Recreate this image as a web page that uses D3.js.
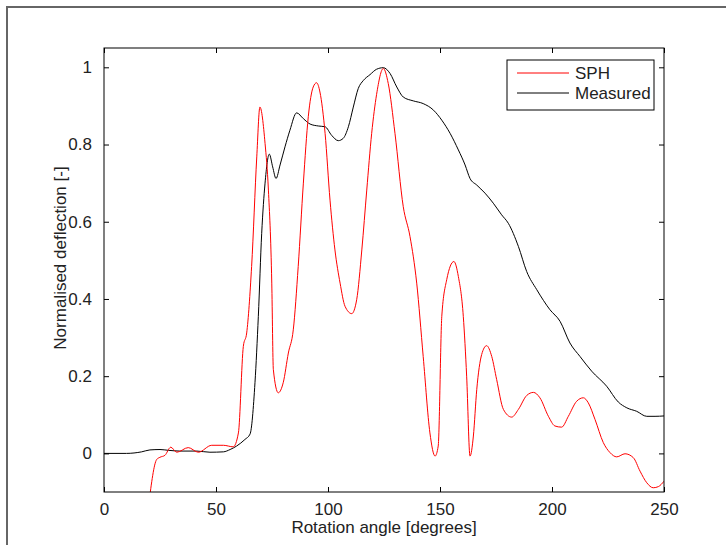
<!DOCTYPE html>
<html>
<head>
<meta charset="utf-8">
<script src="https://cdn.jsdelivr.net/npm/d3@7"></script>
<style>
  body { margin: 0; background: #fff; }
  svg text { font-family: "Liberation Sans", Arial, sans-serif; fill: #222; }
</style>
</head>
<body>
<svg id="chart" width="726" height="545"></svg>
<script>
// SPH (red) curve
var sphAngle = [20, 23.5, 25, 27.2, 29.8, 32.5, 37.6, 42.1, 48.1, 51.8, 53.3, 57.7, 60, 62.2, 63.7, 65.9, 68.2, 69.6,
  71.9, 73.4, 74.9, 75.6, 77.8, 80, 82.3, 84.5, 86.7, 89, 91.2, 93.4, 94.9, 96.4, 98.7, 100.9, 103.1, 105.4, 107.6,
  110.6, 112.8, 115.1, 117.3, 119.5, 121.7, 124.7, 126.9, 129.9, 133.6, 136.6, 139.6, 142.5, 145.5, 147.8, 149.2,
  150.8, 153, 156.2, 158.2, 160.4, 161.9, 163.4, 164.9, 166.4, 168.6, 170.8, 173.1, 175.3, 178.3, 182, 185, 188.7,
  191.7, 194.6, 198.4, 201.3, 204.3, 207.3, 211, 214, 216.2, 219.2, 222.9, 225.9, 228.9, 232.6, 236.3, 239.3, 242.3,
  245.2, 247.5, 250];
var sphValue = [-0.13, -0.016, -0.01, -0.005, 0.016, 0.003, 0.015, 0.003, 0.021, 0.021, 0.021, 0.017, 0.053, 0.277, 0.312,
  0.484, 0.768, 0.897, 0.803, 0.682, 0.441, 0.217, 0.157, 0.183, 0.26, 0.32, 0.484, 0.7, 0.872, 0.949, 0.96, 0.936,
  0.829, 0.656, 0.527, 0.441, 0.381, 0.362, 0.398, 0.527, 0.682, 0.829, 0.93, 0.997, 0.958, 0.829, 0.639, 0.562,
  0.441, 0.251, 0.053, -0.007, 0.019, 0.355, 0.45, 0.497, 0.458, 0.355, 0.2, -0.007, 0.045, 0.165, 0.256, 0.279,
  0.251, 0.191, 0.114, 0.094, 0.114, 0.15, 0.158, 0.144, 0.096, 0.071, 0.068, 0.096, 0.135, 0.144, 0.131, 0.088,
  0.028, 0.002, -0.009, -0.001, -0.011, -0.046, -0.076, -0.089, -0.086, -0.072];

// Measured (black) curve
var measAngle = [0, 10, 16.8, 20.5, 25, 28.7, 33.9, 41.4, 47.3, 53.3, 56.3, 59.2, 62.9, 65.2, 67.4, 68.9, 70.4, 71.9,
  73.8, 75.3, 76.8, 78.6, 80.8, 83, 86, 89, 92, 95.7, 98.7, 101.6, 104.6, 106.8, 109.1, 111.3, 113.5, 115.8, 118.75,
  121.7, 124.7, 127.7, 130.7, 133.6, 138.1, 142.5, 147.1, 150.8, 154.5, 158.2, 161.2, 163.4, 166.4, 170.1, 173.8,
  177.5, 180.5, 185, 188.7, 193.2, 199.1, 203.6, 208, 212.5, 217.7, 224.4, 229.6, 233.4, 237.8, 242.3, 246, 250];
var measValue = [0, 0, 0.004, 0.009, 0.01, 0.008, 0.006, 0.006, 0.003, 0.004, 0.01, 0.019, 0.036, 0.05, 0.183, 0.355,
  0.57, 0.7, 0.775, 0.742, 0.712, 0.747, 0.794, 0.837, 0.882, 0.867, 0.853, 0.848, 0.846, 0.824, 0.81, 0.816, 0.846,
  0.897, 0.945, 0.966, 0.981, 0.995, 0.999, 0.984, 0.949, 0.923, 0.913, 0.906, 0.889, 0.863, 0.829, 0.786, 0.747,
  0.712, 0.695, 0.674, 0.648, 0.618, 0.596, 0.536, 0.471, 0.424, 0.372, 0.342, 0.286, 0.251, 0.213, 0.174, 0.133,
  0.118, 0.109, 0.096, 0.096, 0.097];

var xTicks = [0, 50, 100, 150, 200, 250];
var yTicks = [0, 0.2, 0.4, 0.6, 0.8, 1];
var seriesNames = ["SPH", "Measured"];
var seriesColors = ["#ff0000", "#000000"];

var svg = d3.select("#chart");
var pLeft = 104, pRight = 664, pTop = 48, pBottom = 492;

var x = d3.scaleLinear().domain([0, 250]).range([pLeft, pRight]);
var y = d3.scaleLinear().domain([-0.1, 1.05]).range([pBottom, pTop]);

// figure frame
svg.append("path")
  .attr("d", "M7,545 L7,7 L726,7")
  .attr("fill", "none")
  .attr("stroke", "#666")
  .attr("stroke-width", 2);

svg.append("clipPath").attr("id", "clip")
  .append("rect").attr("x", pLeft).attr("y", pTop).attr("width", pRight - pLeft).attr("height", pBottom - pTop);

// axes, MATLAB style: ticks inside on all sides
svg.append("g").attr("transform", "translate(0," + pBottom + ")")
  .call(d3.axisBottom(x).tickValues(xTicks).tickSizeInner(-5).tickSizeOuter(0).tickPadding(11))
  .call(function(g){ g.select(".domain").remove(); });
svg.append("g").attr("transform", "translate(0," + pTop + ")")
  .call(d3.axisTop(x).tickValues(xTicks).tickSizeInner(-5).tickSizeOuter(0).tickFormat(""))
  .call(function(g){ g.select(".domain").remove(); });
svg.append("g").attr("transform", "translate(" + pLeft + ",0)")
  .call(d3.axisLeft(y).tickValues(yTicks).tickSizeInner(-5).tickSizeOuter(0).tickPadding(12).tickFormat(d3.format("~g")))
  .call(function(g){ g.select(".domain").remove(); });
svg.append("g").attr("transform", "translate(" + pRight + ",0)")
  .call(d3.axisRight(y).tickValues(yTicks).tickSizeInner(-5).tickSizeOuter(0).tickFormat(""))
  .call(function(g){ g.select(".domain").remove(); });

svg.selectAll(".tick text").attr("font-size", 17).attr("font-family", "Liberation Sans, Arial, sans-serif");
svg.selectAll(".tick line").attr("stroke", "#000");

var line = d3.line()
  .x(function(d){ return x(d[0]); })
  .y(function(d){ return y(d[1]); })
  .curve(d3.curveMonotoneX);

var plot = svg.append("g").attr("clip-path", "url(#clip)");
plot.append("path")
  .datum(d3.zip(measAngle, measValue))
  .attr("fill", "none").attr("stroke", seriesColors[1]).attr("stroke-width", 1)
  .attr("d", line);
plot.append("path")
  .datum(d3.zip(sphAngle, sphValue))
  .attr("fill", "none").attr("stroke", seriesColors[0]).attr("stroke-width", 1)
  .attr("d", line);

// box
svg.append("rect")
  .attr("x", pLeft).attr("y", pTop).attr("width", pRight - pLeft).attr("height", pBottom - pTop)
  .attr("fill", "none").attr("stroke", "#000").attr("stroke-width", 1);

// axis labels
svg.append("text")
  .attr("x", (pLeft + pRight) / 2).attr("y", 533)
  .attr("text-anchor", "middle").attr("font-size", 17)
  .text("Rotation angle [degrees]");
svg.append("text")
  .attr("transform", "translate(66," + ((pTop + pBottom) / 2 - 12) + ") rotate(-90)")
  .attr("text-anchor", "middle").attr("font-size", 17)
  .text("Normalised deflection [-]");

// legend
var legend = svg.append("g");
legend.append("rect")
  .attr("x", 507).attr("y", 60).attr("width", 147).attr("height", 50)
  .attr("fill", "#fff").attr("stroke", "#000").attr("stroke-width", 1);
seriesNames.forEach(function(name, i){
  var ly = 73 + i * 20;
  legend.append("line")
    .attr("x1", 517).attr("x2", 569).attr("y1", ly).attr("y2", ly)
    .attr("stroke", seriesColors[i]).attr("stroke-width", 1);
  legend.append("text")
    .attr("x", 575).attr("y", ly).attr("dy", "0.35em")
    .attr("font-size", 17)
    .text(name);
});
</script>
</body>
</html>
